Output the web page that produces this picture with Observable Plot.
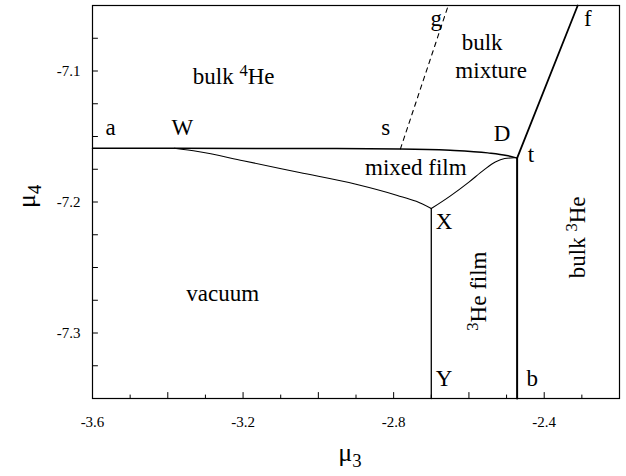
<!DOCTYPE html>
<html><head><meta charset="utf-8">
<script src="https://cdn.jsdelivr.net/npm/d3@7"></script>
<script src="https://cdn.jsdelivr.net/npm/@observablehq/plot@0.6"></script>
<style>body{margin:0;background:#fff} svg text{font-family:"Liberation Serif","DejaVu Serif",serif}</style>
</head><body><div id="chart"></div>
<script>
// ---- axes ----
const xDomain = [-3.6, -2.2];
const yDomain = [-7.35, -7.05];
const xTickLabels = [-3.6, -3.2, -2.8, -2.4];
const xMajorTicks = [-3.4, -3.2, -3.0, -2.8, -2.6, -2.4];
const xMinorTicks = [-3.5, -3.3, -3.1, -2.9, -2.7, -2.5, -2.3];
const yTickLabels = [-7.3, -7.2, -7.1];
const yTicks = [-7.325, -7.3, -7.275, -7.25, -7.225, -7.2, -7.175, -7.15, -7.125, -7.1, -7.075];

// ---- phase boundaries (mu3, mu4) ----
// a - W - s - D - t : bulk 4He coexistence line
const upperX = [-3.6, -3.383, -3.0, -2.782, -2.65, -2.55, -2.5, -2.472];
const upperY = [-7.159, -7.159, -7.1592, -7.1595, -7.1605, -7.1625, -7.1645, -7.1665];
// W - X : vacuum / mixed film
const wxX = [-3.383, -3.32, -3.2, -3.05, -2.9, -2.79, -2.74, -2.7];
const wxY = [-7.159, -7.1615, -7.1685, -7.1775, -7.1865, -7.1950, -7.1995, -7.205];
// X - D : mixed film / 3He film
const xdX = [-2.7, -2.65, -2.6, -2.56, -2.53, -2.505, -2.48];
const xdY = [-7.205, -7.1955, -7.1848, -7.1755, -7.1695, -7.1668, -7.1662];
// X - Y
const xyX = [-2.7, -2.7];
const xyY = [-7.205, -7.35];
// t - b
const tbX = [-2.472, -2.472];
const tbY = [-7.1665, -7.35];
// t - f
const tfX = [-2.472, -2.311];
const tfY = [-7.1665, -7.05];
// s - g (dashed)
const sgX = [-2.782, -2.655];
const sgY = [-7.1595, -7.05];

// ---- labels ----
const labelText = ["a", "W", "s", "D", "t", "g", "f", "bulk", "mixture", "bulk ^{4}He", "mixed film", "X", "Y", "b", "vacuum"];
const labelX = [-3.552, -3.361, -2.821, -2.512, -2.435, -2.687, -2.284, -2.565, -2.541, -3.225, -2.741, -2.666, -2.666, -2.432, -3.254];
const labelY = [-7.143, -7.143, -7.143, -7.148, -7.1637, -7.060, -7.060, -7.0786, -7.0995, -7.104, -7.1735, -7.215, -7.335, -7.335, -7.270];
const rotText = ["^{3}He film", "bulk ^{3}He"];
const rotX = [-2.575, -2.310];
const rotY = [-7.268, -7.227];

const FONT = "Liberation Serif";
const fmt = d => String(d);
const line = (xs, ys, o = {}) => Plot.line(xs, {x: xs, y: ys, stroke: "black", strokeWidth: 1.2, curve: "monotone-x", ...o});
// a plain tick stroke for inward ticks
const tickShape = {draw(ctx, l) { ctx.moveTo(0, 0); ctx.lineTo(0, -l); }};
const ticksX = (vals, len) => Plot.vector(vals, {x: d => d, frameAnchor: "bottom", length: len, anchor: "start", rotate: 0, shape: tickShape, stroke: "black", strokeWidth: 1});
const ticksY = (vals, len) => Plot.vector(vals, {y: d => d, frameAnchor: "left", length: len, anchor: "start", rotate: 90, shape: tickShape, stroke: "black", strokeWidth: 1});

const chart = Plot.plot({
  width: 626, height: 476,
  marginLeft: 92, marginRight: 7, marginTop: 5, marginBottom: 78,
  style: {fontFamily: FONT, fontSize: "15px", background: "#fff", color: "#000"},
  x: {domain: xDomain, label: null},
  y: {domain: yDomain, label: null},
  marks: [
    Plot.frame({stroke: "black", strokeWidth: 1.2}),
    Plot.axisX(xTickLabels, {anchor: "bottom", tickSize: 0, tickPadding: 18, tickFormat: fmt, fontSize: 15, fontFamily: FONT}),
    Plot.axisY(yTickLabels, {anchor: "left", tickSize: 0, tickPadding: 12, tickFormat: fmt, fontSize: 15, fontFamily: FONT}),
    ticksX(xMajorTicks, 6),
    ticksX(xMinorTicks, 3.5),
    ticksY(yTicks, 5),
    line(upperX, upperY, {strokeWidth: 1.5}),
    line(wxX, wxY, {strokeWidth: 1.1}),
    line(xdX, xdY, {strokeWidth: 1.1}),
    line(xyX, xyY, {strokeWidth: 1.3, curve: "linear"}),
    line(tbX, tbY, {strokeWidth: 2, curve: "linear"}),
    line(tfX, tfY, {strokeWidth: 1.8, curve: "linear"}),
    line(sgX, sgY, {strokeWidth: 1.1, curve: "linear", strokeDasharray: "4.5,4.5"}),
    Plot.text(labelText, {x: labelX, y: labelY, text: labelText, fontSize: 23, fontFamily: FONT, fill: "black"}),
    Plot.text(rotText, {x: rotX, y: rotY, text: rotText, fontSize: 23, fontFamily: FONT, fill: "black", rotate: -90}),
    Plot.text(["μ_{3}"], {frameAnchor: "bottom", dx: -6, dy: 62, text: d => d, fontSize: 26, fontFamily: FONT, fill: "black"}),
    Plot.text(["μ_{4}"], {frameAnchor: "left", dx: -66, dy: 6, text: d => d, fontSize: 26, fontFamily: FONT, fill: "black", rotate: -90})
  ]
});

// rich text: ^{..} superscript, _{..} subscript
d3.select(chart).selectAll("text").each(function() {
  const t = this.textContent;
  if (!/[\^_]\{/.test(t)) return;
  const el = d3.select(this);
  el.text(null);
  const re = /([\^_])\{([^}]*)\}/g;
  let last = 0, m;
  while ((m = re.exec(t))) {
    if (m.index > last) el.append("tspan").text(t.slice(last, m.index));
    el.append("tspan").attr("font-size", "72%")
      .attr("baseline-shift", m[1] === "^" ? "45%" : "-30%").text(m[2]);
    last = re.lastIndex;
  }
  if (last < t.length) el.append("tspan").text(t.slice(last));
});

document.getElementById("chart").appendChild(chart);
</script>
</body></html>
